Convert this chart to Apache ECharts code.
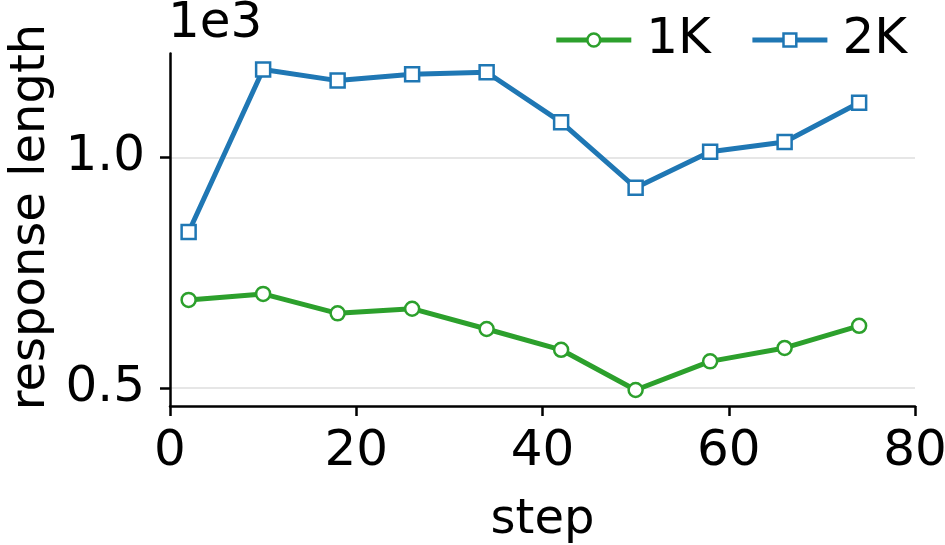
<!DOCTYPE html>
<html>
<head>
<meta charset="utf-8">
<script src="https://cdn.jsdelivr.net/npm/echarts@6/dist/echarts.min.js"></script>
<style>html,body{margin:0;padding:0;background:#fff}#c{width:945px;height:545px}</style>
</head>
<body>
<div id="c"></div>
<script>
const steps = [2, 10, 18, 26, 34, 42, 50, 58, 66, 74];
const len1K = [691, 704, 662, 672, 628, 583, 496, 558, 587, 635];
const len2K = [838, 1190, 1166, 1180, 1184, 1076, 934, 1012, 1033, 1118];
const xTicks = [0, 20, 40, 60, 80];
const yTicks = [500, 1000];
const seriesNames = ['1K', '2K'];
const colors = ['#2ca02c', '#1f77b4'];

const FONT = 'DejaVu Sans';
const FS = 50;
const FN = 48;
const chart = echarts.init(document.getElementById('c'), null, {renderer: 'canvas'});
const pairs = (xs, ys) => xs.map((x, i) => [x, ys[i]]);

chart.setOption({
  animation: false,
  backgroundColor: '#fff',
  textStyle: {fontFamily: FONT},
  grid: {left: 170, right: 30, top: 53.5, bottom: 139, containLabel: false, outerBoundsMode: 'none'},
  legend: {
    top: 10, right: 33,
    itemWidth: 75, itemHeight: 16, itemGap: 39,
    textStyle: {fontFamily: FONT, fontSize: FS, color: '#000', padding: [0, 0, 0, 10]},
    data: seriesNames.map((n, i) => ({
      name: n,
      lineStyle: {color: colors[i], width: 5},
      itemStyle: {color: '#fff', borderColor: colors[i], borderWidth: 2.5}
    }))
  },
  graphic: [
    {
      type: 'text', left: 168, top: -1,
      style: {text: '1e3', font: FS + 'px "' + FONT + '"', fill: '#000'}
    },
    {
      type: 'text', x: 32, y: 217, rotation: Math.PI / 2,
      style: {text: 'response length', font: FN + 'px "' + FONT + '"', fill: '#000',
        align: 'center', verticalAlign: 'middle'}
    }
  ],
  xAxis: {
    type: 'value', min: 0, max: 80, interval: 20,
    name: 'step', nameLocation: 'middle', nameGap: 91,
    nameTextStyle: {fontFamily: FONT, fontSize: FN, color: '#000'},
    axisLine: {show: true, lineStyle: {color: '#000', width: 2.5}},
    axisTick: {show: true, length: 10, lineStyle: {color: '#000', width: 2.5}, customValues: xTicks},
    axisLabel: {fontFamily: FONT, fontSize: FS, color: '#000', margin: 21, customValues: xTicks},
    splitLine: {show: false}
  },
  yAxis: {
    type: 'value', min: 461.3, max: 1224.7,
    axisLine: {show: true, lineStyle: {color: '#000', width: 2.5}},
    axisTick: {show: true, length: 10, lineStyle: {color: '#000', width: 2.5}, customValues: yTicks},
    axisLabel: {fontFamily: FONT, fontSize: FS, color: '#000', margin: 25, customValues: yTicks,
      formatter: v => (v / 1000).toFixed(1)},
    splitLine: {show: true, lineStyle: {color: '#e6e6e6', width: 2}}
  },
  series: [
    {
      name: seriesNames[0], type: 'line', data: pairs(steps, len1K),
      symbol: 'circle', symbolSize: 14, showAllSymbol: true,
      lineStyle: {color: colors[0], width: 5},
      itemStyle: {color: '#fff', borderColor: colors[0], borderWidth: 2.5},
      color: colors[0], z: 3
    },
    {
      name: seriesNames[1], type: 'line', data: pairs(steps, len2K),
      symbol: 'rect', symbolSize: 14, showAllSymbol: true,
      lineStyle: {color: colors[1], width: 5},
      itemStyle: {color: '#fff', borderColor: colors[1], borderWidth: 2.5},
      color: colors[1], z: 3
    }
  ]
});
</script>
</body>
</html>
